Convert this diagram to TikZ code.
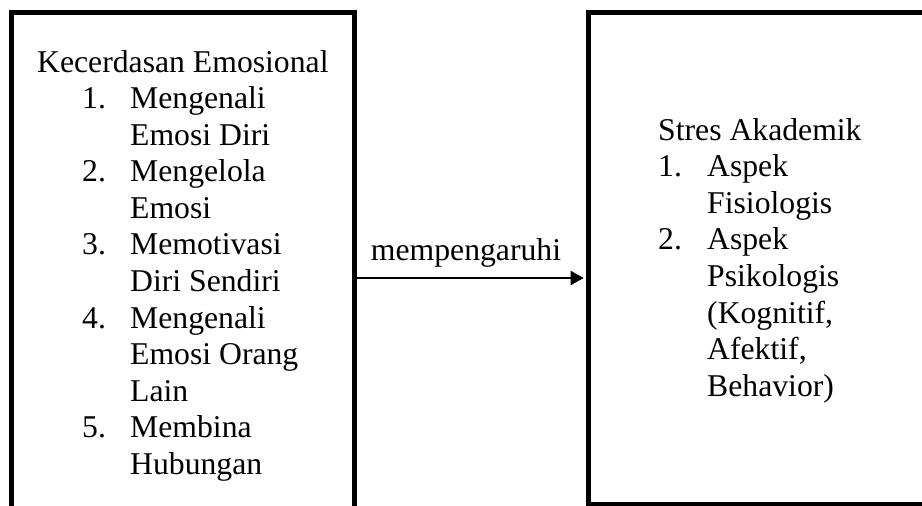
\documentclass[tikz,border=0pt]{standalone}
\usepackage{fontspec}
\setmainfont{Liberation Serif}
\usetikzlibrary{arrows.meta}

\begin{document}
\begin{tikzpicture}[x=1pt,y=-1pt]
\tikzset{
  framebox/.style={rectangle,draw=black,line width=5pt,inner sep=0pt},
  listtext/.style={inner sep=0pt,align=left,font=\fontsize{31.7}{36.6}\selectfont},
  linkline/.style={draw=black,line width=2pt,shorten >=2.5pt,-{Triangle[length=13pt,width=14pt]}}
}
\useasboundingbox (0,0) rectangle (922,506);
\clip (0,0) rectangle (922,506);
\node[framebox,minimum width=342.8pt,minimum height=527.5pt] (b_kecerdasan) at (183.1,276.25) {};
\node[framebox,minimum width=371.3pt,minimum height=491.5pt] (b_stres) at (774.35,258.25) {};
\node[listtext,anchor=base west] (t_kecerdasan) at (37,72) {%
  \begin{tabular}[t]{@{}p{45pt}@{}p{48pt}@{}l@{}}
  \multicolumn{3}{@{}l@{}}{Kecerdasan Emosional}\\
  & 1. & Mengenali\\
  & & Emosi Diri\\
  & 2. & Mengelola\\
  & & Emosi\\
  & 3. & Memotivasi\\
  & & Diri Sendiri\\
  & 4. & Mengenali\\
  & & Emosi Orang\\
  & & Lain\\
  & 5. & Membina\\
  & & Hubungan
  \end{tabular}};
\node[listtext,anchor=base west] (t_stres) at (658,140) {%
  \begin{tabular}[t]{@{}p{49pt}@{}l@{}}
  \multicolumn{2}{@{}l@{}}{Stres Akademik}\\
  1. & Aspek\\
  & Fisiologis\\
  2. & Aspek\\
  & Psikologis\\
  & (Kognitif,\\
  & Afektif,\\
  & Behavior)
  \end{tabular}};
\node[listtext,anchor=base] (t_pengaruh) at (466,260) {mempengaruhi};
\draw[linkline] (b_kecerdasan.east |- 0,278) -- (b_stres.west |- 0,278);
\end{tikzpicture}
\end{document}
